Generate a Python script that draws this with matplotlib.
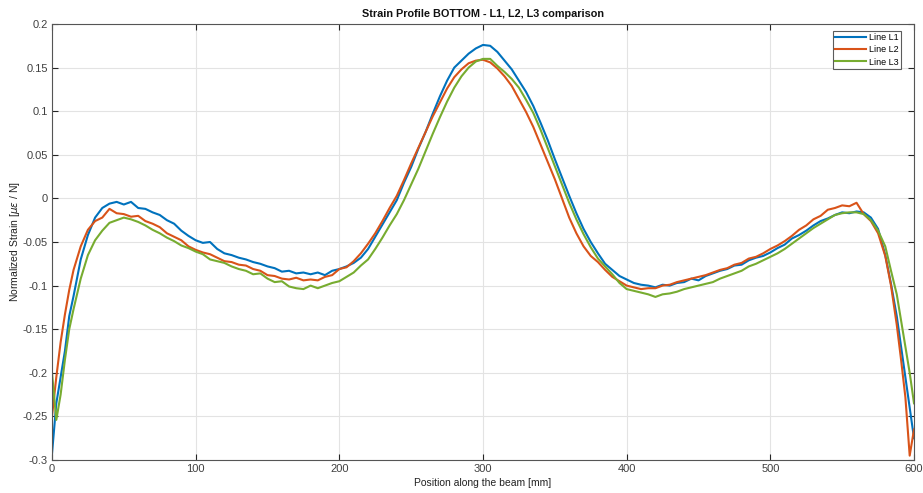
import matplotlib
matplotlib.use("Agg")
import matplotlib.pyplot as plt

position_mm = [0, 3, 6, 9, 12, 15,
               20, 25, 30, 35, 40, 45, 50, 55, 60, 65, 70, 75, 80, 85, 90, 95,
               100, 105, 110, 115, 120, 125, 130, 135, 140, 145, 150, 155, 160, 165, 170, 175,
               180, 185, 190, 195, 200, 205, 210, 215, 220, 225, 230, 235, 240, 245, 250, 255,
               260, 265, 270, 275, 280, 285, 290, 295, 300, 305, 310, 315, 320, 325, 330, 335,
               340, 345, 350, 355, 360, 365, 370, 375, 380, 385, 390, 395, 400, 405, 410, 415,
               420, 425, 430, 435, 440, 445, 450, 455, 460, 465, 470, 475, 480, 485, 490, 495,
               500, 505, 510, 515, 520, 525, 530, 535, 540, 545, 550, 555, 560, 565, 570, 575,
               580, 584, 588, 591, 594, 597, 600]

line_L1 = [-0.293, -0.235, -0.205, -0.175, -0.135, -0.112,
           -0.070, -0.042, -0.022, -0.011, -0.006, -0.004, -0.007, -0.004, -0.011, -0.012, -0.016, -0.019, -0.025, -0.029, -0.037, -0.043,
           -0.048, -0.051, -0.050, -0.058, -0.063, -0.065, -0.068, -0.070, -0.073, -0.075, -0.078, -0.080, -0.084, -0.083, -0.086, -0.085,
           -0.087, -0.085, -0.088, -0.083, -0.081, -0.078, -0.074, -0.068, -0.058, -0.044, -0.030, -0.016, -0.002, 0.018, 0.036, 0.057,
           0.076, 0.097, 0.117, 0.135, 0.150, 0.158, 0.166, 0.172, 0.176, 0.175, 0.168, 0.158, 0.148, 0.135, 0.122, 0.106,
           0.087, 0.067, 0.045, 0.024, 0.003, -0.017, -0.035, -0.050, -0.063, -0.075, -0.082, -0.089, -0.093, -0.097, -0.099, -0.100,
           -0.102, -0.099, -0.100, -0.097, -0.096, -0.092, -0.094, -0.089, -0.086, -0.083, -0.081, -0.077, -0.076, -0.071, -0.068, -0.066,
           -0.062, -0.057, -0.053, -0.046, -0.042, -0.037, -0.031, -0.026, -0.023, -0.019, -0.016, -0.017, -0.015, -0.016, -0.022, -0.035,
           -0.065, -0.098, -0.135, -0.170, -0.205, -0.240, -0.275]

line_L2 = [-0.250, -0.205, -0.165, -0.133, -0.105, -0.082,
           -0.055, -0.036, -0.026, -0.022, -0.012, -0.017, -0.018, -0.021, -0.020, -0.026, -0.029, -0.033, -0.040, -0.044, -0.048, -0.055,
           -0.059, -0.062, -0.064, -0.068, -0.072, -0.073, -0.076, -0.077, -0.081, -0.083, -0.088, -0.089, -0.092, -0.093, -0.091, -0.094,
           -0.093, -0.094, -0.090, -0.088, -0.081, -0.079, -0.072, -0.063, -0.052, -0.040, -0.026, -0.011, 0.003, 0.021, 0.040, 0.058,
           0.076, 0.094, 0.110, 0.126, 0.139, 0.148, 0.155, 0.158, 0.159, 0.156, 0.149, 0.140, 0.129, 0.114, 0.099, 0.082,
           0.062, 0.042, 0.022, 0.000, -0.022, -0.040, -0.055, -0.066, -0.073, -0.082, -0.090, -0.095, -0.100, -0.102, -0.104, -0.103,
           -0.103, -0.100, -0.099, -0.096, -0.094, -0.092, -0.090, -0.088, -0.085, -0.082, -0.080, -0.076, -0.074, -0.069, -0.067, -0.063,
           -0.058, -0.054, -0.049, -0.043, -0.036, -0.031, -0.024, -0.020, -0.013, -0.011, -0.008, -0.009, -0.005, -0.018, -0.026, -0.040,
           -0.066, -0.100, -0.145, -0.185, -0.228, -0.295, -0.265]

line_L3 = [-0.200, -0.254, -0.225, -0.185, -0.150, -0.127,
           -0.092, -0.065, -0.048, -0.037, -0.028, -0.025, -0.022, -0.024, -0.027, -0.031, -0.036, -0.040, -0.045, -0.049, -0.054, -0.057,
           -0.061, -0.064, -0.070, -0.072, -0.074, -0.078, -0.081, -0.083, -0.087, -0.086, -0.092, -0.096, -0.095, -0.101, -0.103, -0.104,
           -0.100, -0.103, -0.100, -0.097, -0.095, -0.090, -0.085, -0.077, -0.070, -0.058, -0.045, -0.031, -0.018, -0.002, 0.016, 0.034,
           0.054, 0.074, 0.093, 0.111, 0.127, 0.140, 0.150, 0.157, 0.160, 0.160, 0.152, 0.145, 0.137, 0.127, 0.113, 0.098,
           0.079, 0.058, 0.037, 0.016, -0.005, -0.024, -0.041, -0.056, -0.069, -0.078, -0.087, -0.097, -0.104, -0.106, -0.108, -0.110,
           -0.113, -0.110, -0.109, -0.107, -0.104, -0.102, -0.100, -0.098, -0.096, -0.092, -0.089, -0.086, -0.083, -0.078, -0.075, -0.071,
           -0.067, -0.063, -0.058, -0.052, -0.046, -0.040, -0.034, -0.029, -0.024, -0.019, -0.017, -0.016, -0.016, -0.018, -0.025, -0.037,
           -0.055, -0.083, -0.110, -0.140, -0.170, -0.200, -0.235]

series_names = ["Line L1", "Line L2", "Line L3"]
series_colors = ["#0072BD", "#D95319", "#77AC30"]
x_ticks = [0, 100, 200, 300, 400, 500, 600]
y_ticks = [-0.3, -0.25, -0.2, -0.15, -0.1, -0.05, 0, 0.05, 0.1, 0.15, 0.2]
y_tick_labels = ["-0.3", "-0.25", "-0.2", "-0.15", "-0.1", "-0.05", "0", "0.05", "0.1", "0.15", "0.2"]

plt.rcParams["font.family"] = ["Liberation Sans", "DejaVu Sans"]
plt.rcParams["mathtext.fontset"] = "dejavusans"

fig = plt.figure(figsize=(9.23, 4.93), dpi=100)
ax = fig.add_axes([52 / 923, 1 - 460 / 493, (914 - 52) / 923, (460 - 24) / 493])

for ys, name, col in zip([line_L1, line_L2, line_L3], series_names, series_colors):
    ax.plot(position_mm, ys, color=col, lw=1.5, label=name)

ax.set_xlim(0, 600)
ax.set_ylim(-0.3, 0.2)
ax.set_xticks(x_ticks)
ax.set_yticks(y_ticks)
ax.set_yticklabels(y_tick_labels)
ax.grid(True, color="#e3e3e3", lw=0.8)
ax.set_axisbelow(True)
ax.tick_params(direction="in", length=4, width=0.8, colors="#262626",
               labelsize=8, top=True, right=True, pad=3, labelcolor="#404040")
for s in ax.spines.values():
    s.set_color("#555555")
    s.set_linewidth(0.8)

ax.set_title("Strain Profile BOTTOM - L1, L2, L3 comparison", fontsize=7.8,
             fontweight="bold", color="#111111", pad=5)
ax.set_xlabel("Position along the beam [mm]", fontsize=7.5, color="#222222", labelpad=3)
ax.set_ylabel(r"Normalized Strain [$\mu\epsilon$ / N]", fontsize=7.5, color="#222222", labelpad=0.5)

leg = ax.legend(loc="upper right", fontsize=6.5, frameon=True, fancybox=False,
                handlelength=3.4, borderaxespad=0.0, bbox_to_anchor=(0.985, 0.985),
                labelspacing=0.35, borderpad=0.3, handletextpad=0.3)
leg.get_frame().set_edgecolor("#333333")
leg.get_frame().set_linewidth(0.8)

fig.savefig("out.png", dpi=100)
